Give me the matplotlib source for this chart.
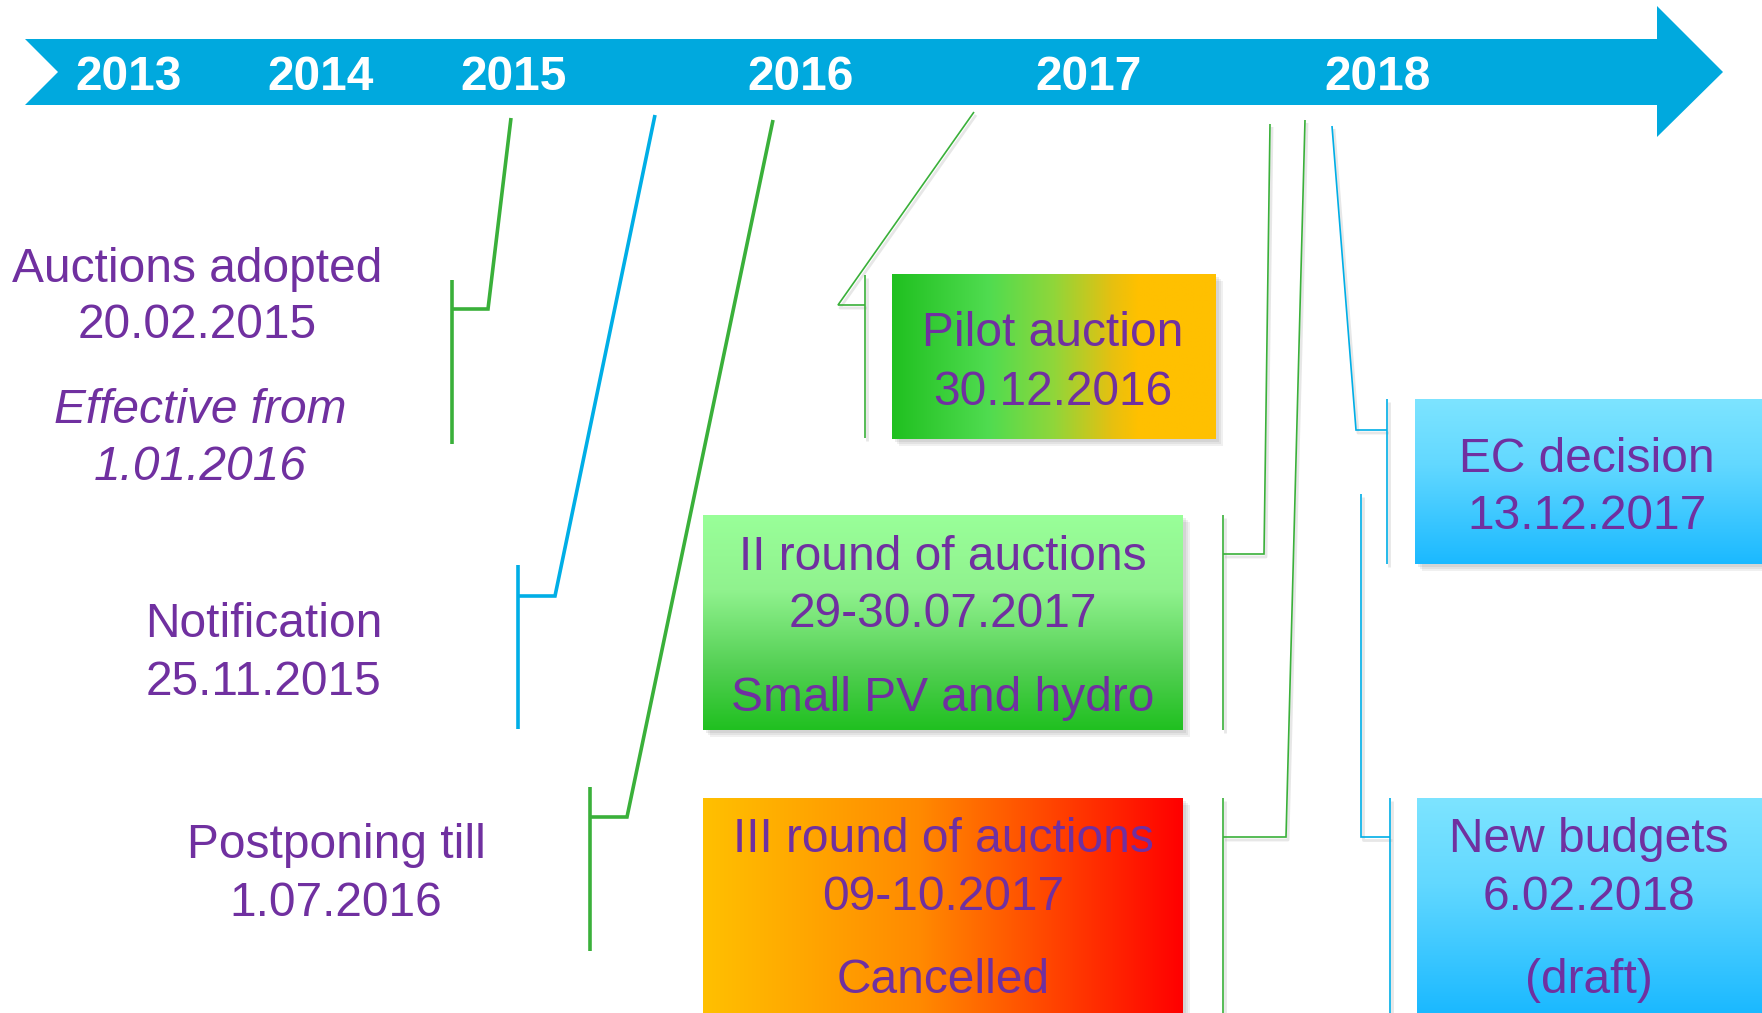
import numpy as np
import matplotlib
matplotlib.use("Agg")
import matplotlib.pyplot as plt
from matplotlib.colors import LinearSegmentedColormap
from matplotlib.patches import Polygon, Rectangle

# timeline labels
years = ["2013", "2014", "2015", "2016", "2017", "2018"]
year_x = [129, 321, 514, 801, 1089, 1378]

# left-hand events (plain text)
left_lines = [
    ["Auctions adopted", "20.02.2015"],
    ["Effective from", "1.01.2016"],
    ["Notification", "25.11.2015"],
    ["Postponing till", "1.07.2016"],
]
left_italic = [False, True, False, False]

# boxed events
box_lines = [
    ["Pilot auction", "30.12.2016"],
    ["II round of auctions", "29-30.07.2017", "Small PV and hydro"],
    ["III round of auctions", "09-10.2017", "Cancelled"],
    ["EC decision", "13.12.2017"],
    ["New budgets", "6.02.2018", "(draft)"],
]

# ---- layout (pixels, y down) ----
left_pos = [(197, [269, 325]), (200, [410, 467]), (264, [624, 682]), (336, [845, 903])]

box_rect = [(892, 274, 1216, 439), (703, 515, 1183, 730), (703, 798, 1183, 1013),
            (1415, 399, 1762, 564), (1417, 798, 1762, 1013)]
box_text_pos = [(1053, [333, 392]), (943, [557, 614, 698]), (943, [839, 897, 980]),
                (1587, [459, 516]), (1589, [839, 897, 980])]

# gradients: (stops, direction)
box_grad = [
    ([(0, "#20c020"), (0.3, "#50dc50"), (0.5, "#90d63a"), (0.68, "#e6c010"), (0.76, "#ffc000"), (1, "#ffc000")], "h"),
    ([(0, "#99ff99"), (0.35, "#90f28e"), (0.7, "#55d055"), (1, "#20c020")], "v"),
    ([(0, "#ffc000"), (0.45, "#ff8a00"), (1, "#ff0000")], "h"),
    ([(0, "#7de4ff"), (0.4, "#62d8ff"), (1, "#1bb9ff")], "v"),
    ([(0, "#7de4ff"), (0.4, "#62d8ff"), (1, "#1bb9ff")], "v"),
]

GREEN = "#3ab03a"
BLUE = "#00aee6"
# connectors: polyline path, bracket x, bracket y range, colour, width
connectors = [
    ([(511, 118), (488, 309), (452, 309)], 452, (280, 444), GREEN, 2.6),
    ([(655, 115), (555, 596), (518, 596)], 518, (565, 729), BLUE, 2.6),
    ([(773, 120), (627, 817), (590, 817)], 590, (787, 951), GREEN, 2.6),
    ([(974, 112), (838, 305), (865, 305)], 865, (275, 438), GREEN, 1.2),
    ([(1270, 124), (1264, 554), (1223, 554)], 1223, (515, 730), GREEN, 1.2),
    ([(1305, 120), (1286, 837), (1223, 837)], 1223, (798, 1013), GREEN, 1.2),
    ([(1332, 126), (1356, 430), (1387, 430)], 1387, (399, 564), BLUE, 1.2),
    ([(1361, 494), (1361, 837), (1390, 837)], 1390, (798, 1013), BLUE, 1.2),
]

PURPLE = "#7030a0"
FONT = ["Liberation Sans", "DejaVu Sans"]
FS = 34.5

fig = plt.figure(figsize=(17.62, 10.13), dpi=100)
ax = fig.add_axes([0, 0, 1, 1])
ax.set_axis_off()

# timeline arrow
arrow_pts = [(25, 39), (1657, 39), (1657, 6), (1723, 72), (1657, 137),
             (1657, 105), (25, 105), (58, 72)]
ax.add_patch(Polygon(arrow_pts, closed=True, facecolor="#00a9de", edgecolor="none", zorder=1))
for yr, x in zip(years, year_x):
    ax.text(x, 77, yr, color="white", fontsize=FS, fontweight="bold", family=FONT,
            ha="center", va="center", zorder=3)

# connectors
for path, bx, (by0, by1), col, lw in connectors:
    xs = [p[0] for p in path]
    ys = [p[1] for p in path]
    if lw < 2:
        ax.plot([x + 2 for x in xs], [y + 3 for y in ys], color="#bbbbbb", lw=lw + 0.8,
                alpha=0.35, zorder=1, solid_capstyle="butt")
        ax.plot([bx + 2, bx + 2], [by0 + 3, by1 + 3], color="#bbbbbb", lw=lw + 0.8,
                alpha=0.35, zorder=1, solid_capstyle="butt")
    ax.plot(xs, ys, color=col, lw=lw, zorder=2, solid_joinstyle="miter", solid_capstyle="butt")
    ax.plot([bx, bx], [by0, by1], color=col, lw=lw, zorder=2, solid_capstyle="butt")

# boxes with soft shadow and gradient fill
for (x0, y0, x1, y1), (stops, d) in zip(box_rect, box_grad):
    for k, a in enumerate([0.10, 0.10, 0.12]):
        off = 7 - 2 * k
        ax.add_patch(Rectangle((x0 + off, y0 + off), x1 - x0, y1 - y0, facecolor="#707070",
                               edgecolor="none", alpha=a, zorder=2))
    cmap = LinearSegmentedColormap.from_list("g", stops)
    g = np.linspace(0, 1, 256)
    grad = g.reshape(1, -1) if d == "h" else g.reshape(-1, 1)
    ax.imshow(grad, extent=(x0, x1, y1, y0), cmap=cmap, aspect="auto",
              interpolation="bilinear", zorder=3)

for (x, ys), lines in zip(box_text_pos, box_lines):
    for y, s in zip(ys, lines):
        ax.text(x, y, s, color=PURPLE, fontsize=FS, family=FONT, ha="center",
                va="center", zorder=4)

for (x, ys), lines, it in zip(left_pos, left_lines, left_italic):
    for y, s in zip(ys, lines):
        ax.text(x, y, s, color=PURPLE, fontsize=FS, family=FONT, ha="center",
                va="center", style="italic" if it else "normal", zorder=4)

ax.set_xlim(0, 1762)
ax.set_ylim(1013, 0)

fig.savefig("out.png", dpi=100)
